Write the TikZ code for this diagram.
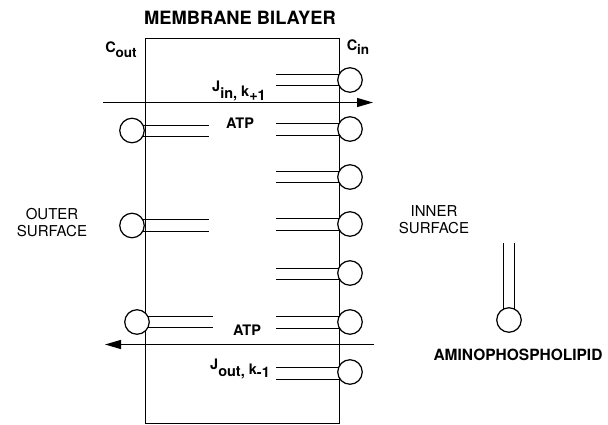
\documentclass[tikz,border=0pt]{standalone}
\usepackage{fontspec}
\setmainfont{TeX Gyre Heros}
\usetikzlibrary{arrows.meta}
\newcommand\lowr[2]{\raisebox{-#1pt}{#2}}
\begin{document}
\begin{tikzpicture}[x=1pt,y=-1pt,line width=1.25pt,
  head/.style={circle,draw,fill=white,minimum size=24.5pt,inner sep=0pt,line width=1.25pt},
  lbl/.style={font=\bfseries\fontsize{14.5}{16}\selectfont,inner sep=0pt,anchor=base},
  clbl/.style={font=\bfseries\fontsize{14.5}{15}\selectfont,inner sep=0pt,anchor=base},
  title/.style={font=\bfseries\fontsize{18.3}{20}\selectfont,inner sep=0pt},
  atp/.style={font=\bfseries\fontsize{14.5}{16}\selectfont,inner sep=0pt},
  surf/.style={font=\fontsize{15}{17}\selectfont,inner sep=0pt,align=center},
  flux/.style={-{Triangle[length=16pt,width=9pt]},line width=1.25pt}]
\useasboundingbox (0,0) rectangle (608,424);
% bilayer box
\node[draw,line width=1.25pt,inner sep=0pt,minimum width=194pt,minimum height=385pt,anchor=north west] (bilayer) at (144.5,37.5) {};
\node[title] (ttl) at (240,18) {MEMBRANE BILAYER};
\node[clbl] (cout) at (121,52) {C\lowr{5}{\fontsize{13.5}{14}\selectfont out}};
\node[clbl] (cin) at (358,50) {C\lowr{4}{\fontsize{13.5}{14}\selectfont in}};
% right leaflet tails
\foreach \a/\b in {74.5/85.5,123.5/135.5,171.5/182.5,218.5/230.5,268.5/279.5,316.5/328.5,367.5/379.5}{
  \draw (276,\a) -- (341,\a);
  \draw (276,\b) -- (341,\b);
}
% left leaflet tails
\foreach \a/\b in {125.5/136.5,219.5/231.5}{
  \draw (141,\a) -- (209,\a);
  \draw (141,\b) -- (209,\b);
}
\draw (146,316.5) -- (213,316.5);
\draw (146,327.5) -- (213,327.5);
% right heads
\foreach \y [count=\i] in {80,129,177,224,273,322,372}{
  \node[head] (r\i) at (350,\y) {};
}
% left heads
\node[head] (l1) at (132,130.5) {};
\node[head] (l2) at (132,225.5) {};
\node[head] (l3) at (137,322) {};
% fluxes
\coordinate (inS) at (103,102.5);
\coordinate (inE) at (373,102.5);
\draw[flux] (inS) -- (inE);
\coordinate (outS) at (374,344.5);
\coordinate (outE) at (105,344.5);
\draw[flux] (outS) -- (outE);
\node[lbl] (jin) at (239,91) {J\lowr{7}{in,} \lowr{5}{k}\lowr{9}{+1}};
\node[lbl] (jout) at (240,369) {J\lowr{7}{out,} \lowr{5}{k}\lowr{8}{-1}};
\node[atp] (atp1) at (240,123) {ATP};
\node[atp] (atp2) at (247,330) {ATP};
% surfaces
\node[surf] (outer) at (52,223) {OUTER\\SURFACE};
\node[surf] (inner) at (434,220) {INNER\\SURFACE};
% aminophospholipid
\draw (503.5,243) -- (503.5,310);
\draw (514.5,243) -- (514.5,310);
\node[head] (amino) at (509,320) {};
\node[font=\bfseries\fontsize{15.5}{17}\selectfont,inner sep=0pt] (aminolbl) at (518,355) {AMINOPHOSPHOLIPID};
\end{tikzpicture}
\end{document}
